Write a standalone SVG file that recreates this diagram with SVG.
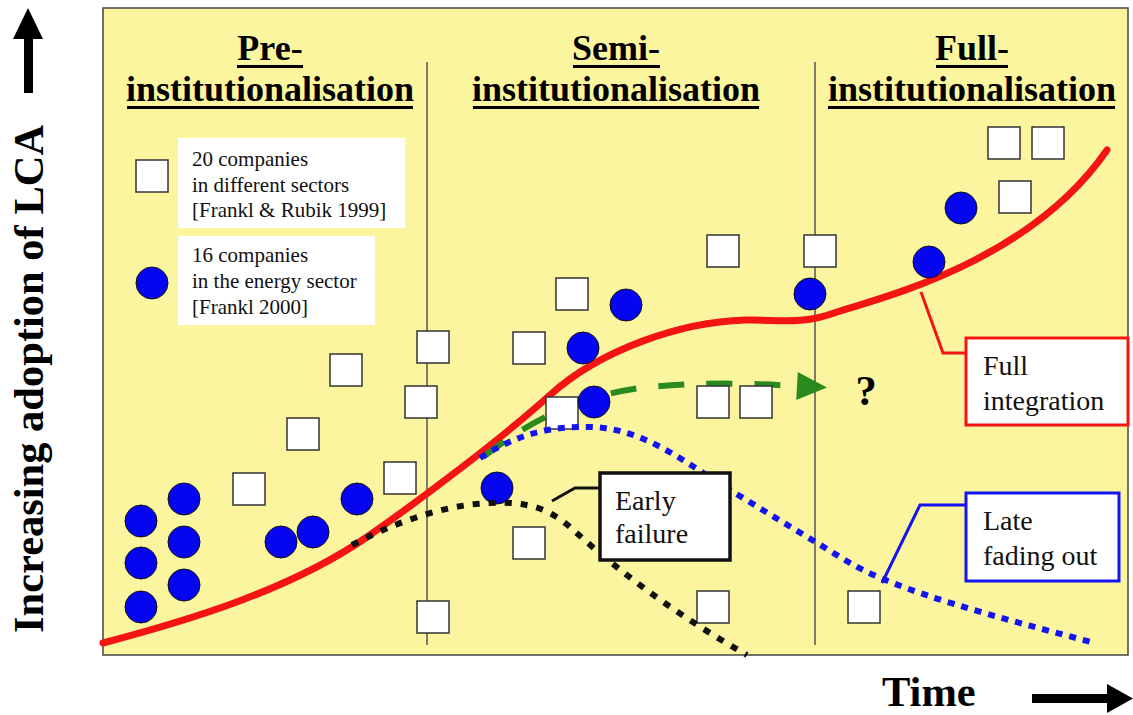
<svg xmlns="http://www.w3.org/2000/svg" width="1133" height="715" viewBox="0 0 1133 715">
<defs>
<style>
.hd{font-family:"Liberation Serif","Times New Roman",serif;font-weight:bold;font-size:36px;fill:#000;text-anchor:middle}
.lg{font-family:"Liberation Serif","Times New Roman",serif;font-size:21px;fill:#111}
.lb{font-family:"Liberation Serif","Times New Roman",serif;font-size:28px;fill:#111}
.ax{font-family:"Liberation Serif","Times New Roman",serif;font-weight:bold;font-size:42.5px;fill:#000}
.ul{stroke:#000;stroke-width:3}
.sq{fill:#fff;stroke:#333;stroke-width:1.5}
.ci{fill:#0505f0;stroke:#111;stroke-width:1}
.div{stroke:#555;stroke-width:1.5}
</style>
<marker id="gArrow" markerWidth="10" markerHeight="10" refX="0" refY="5" orient="auto" markerUnits="userSpaceOnUse" viewBox="0 0 10 10" overflow="visible">
<polygon points="0,-9 30,5 0,19" fill="#2b8a1e"/>
</marker>
</defs>
<rect width="1133" height="715" fill="#fff"/>
<rect x="103" y="8" width="1025" height="647" fill="#fbf5a0" stroke="#444" stroke-width="1.5"/>
<line class="div" x1="427" y1="62" x2="427" y2="645"/>
<line class="div" x1="815" y1="62" x2="815" y2="645"/>

<g id="head-pre">
<text class="hd" x="270" y="60">Pre-</text>
<line class="ul" x1="237" y1="66.5" x2="303" y2="66.5"/>
<text class="hd" x="270" y="101">institutionalisation</text>
<line class="ul" x1="127" y1="107.5" x2="413" y2="107.5"/>
</g>
<g id="head-semi">
<text class="hd" x="616" y="60">Semi-</text>
<line class="ul" x1="573" y1="66.5" x2="660" y2="66.5"/>
<text class="hd" x="616" y="101">institutionalisation</text>
<line class="ul" x1="473" y1="107.5" x2="759" y2="107.5"/>
</g>
<g id="head-full">
<text class="hd" x="972" y="60">Full-</text>
<line class="ul" x1="936" y1="66.5" x2="1008" y2="66.5"/>
<text class="hd" x="972" y="101">institutionalisation</text>
<line class="ul" x1="828" y1="107.5" x2="1115" y2="107.5"/>
</g>

<g id="legend-squares">
<rect x="178" y="138" width="227" height="90" fill="#fff"/>
<rect class="sq" x="136" y="160" width="32" height="32"/>
<text class="lg" x="192" y="166">20 companies</text>
<text class="lg" x="192" y="192">in different sectors</text>
<text class="lg" x="192" y="217">[Frankl &amp; Rubik 1999]</text>
</g>
<g id="legend-circles">
<rect x="178" y="236" width="197" height="89" fill="#fff"/>
<circle class="ci" cx="152" cy="283" r="16"/>
<text class="lg" x="192" y="262">16 companies</text>
<text class="lg" x="192" y="288">in the energy sector</text>
<text class="lg" x="192" y="314">[Frankl 2000]</text>
</g>

<g id="connectors" fill="none">
<path id="full-integration-curve" d="M103,643 C190,620 290,590 367,537 C420,500 500,440 550,395 C600,350 680,322 745,320 C775,319 800,326 837,312 C880,298 1030,262 1107,150" stroke="#f51414" stroke-width="7" stroke-linecap="round"/>
<path id="question-arrow" d="M483,457 C525,425 570,398 640,388 C700,381 760,384 797,386" stroke="#2b8a1e" stroke-width="6" stroke-dasharray="26 22" marker-end="url(#gArrow)"/>
<polyline id="full-leader" points="921,292 943,353 966,353" stroke="#f51414" stroke-width="3"/>
<polyline id="late-leader" points="882,583 920,505 966,505" stroke="#1414f0" stroke-width="3"/>
<polyline id="early-leader" points="552,501 575,488 599,488" stroke="#111" stroke-width="3"/>
</g>

<g id="companies-squares">
<rect class="sq" x="330" y="354" width="32" height="32"/>
<rect class="sq" x="287" y="418" width="32" height="32"/>
<rect class="sq" x="233" y="473" width="32" height="32"/>
<rect class="sq" x="384" y="462" width="32" height="32"/>
<rect class="sq" x="405" y="386" width="32" height="32"/>
<rect class="sq" x="417" y="331" width="32" height="32"/>
<rect class="sq" x="417" y="601" width="32" height="32"/>
<rect class="sq" x="556" y="278" width="32" height="32"/>
<rect class="sq" x="707" y="235" width="32" height="32"/>
<rect class="sq" x="804" y="235" width="32" height="32"/>
<rect class="sq" x="513" y="332" width="32" height="32"/>
<rect class="sq" x="546" y="397" width="32" height="32"/>
<rect class="sq" x="697" y="386" width="32" height="32"/>
<rect class="sq" x="740" y="386" width="32" height="32"/>
<rect class="sq" x="513" y="527" width="32" height="32"/>
<rect class="sq" x="697" y="591" width="32" height="32"/>
<rect class="sq" x="988" y="127" width="32" height="32"/>
<rect class="sq" x="1032" y="127" width="32" height="32"/>
<rect class="sq" x="999" y="181" width="32" height="32"/>
<rect class="sq" x="848" y="591" width="32" height="32"/>
</g>
<g id="energy-circles">
<circle class="ci" cx="141" cy="521" r="16"/>
<circle class="ci" cx="141" cy="563" r="16"/>
<circle class="ci" cx="141" cy="607" r="16"/>
<circle class="ci" cx="184" cy="499" r="16"/>
<circle class="ci" cx="184" cy="542" r="16"/>
<circle class="ci" cx="184" cy="585" r="16"/>
<circle class="ci" cx="281" cy="542" r="16"/>
<circle class="ci" cx="313" cy="532" r="16"/>
<circle class="ci" cx="357" cy="499" r="16"/>
<circle class="ci" cx="626" cy="305" r="16"/>
<circle class="ci" cx="583" cy="348" r="16"/>
<circle class="ci" cx="594" cy="402" r="16"/>
<circle class="ci" cx="497" cy="488" r="16"/>
<circle class="ci" cx="810" cy="294" r="16"/>
<circle class="ci" cx="929" cy="262" r="16"/>
<circle class="ci" cx="961" cy="208" r="16"/>
</g>

<g id="dotted-curves" fill="none">
<path id="late-fading-curve" d="M480,458 C520,432 555,426 590,427 C640,428 680,458 720,484 L850,563 C900,592 1000,618 1095,643" stroke="#1414f0" stroke-width="6" stroke-dasharray="7 7"/>
<path id="early-failure-curve" d="M352,545 C390,525 440,505 490,503 C530,501 550,510 570,527 C590,545 650,600 747,655" stroke="#111" stroke-width="6" stroke-dasharray="7 9"/>
</g>

<g id="label-early">
<rect x="600" y="473" width="130" height="87" fill="#fff" stroke="#111" stroke-width="3.5"/>
<text class="lb" x="615" y="510">Early</text>
<text class="lb" x="615" y="543">failure</text>
</g>
<g id="label-full">
<rect x="966" y="338" width="162" height="87" fill="#fff" stroke="#f51414" stroke-width="3"/>
<text class="lb" x="983" y="375">Full</text>
<text class="lb" x="983" y="410">integration</text>
</g>
<g id="label-late">
<rect x="966" y="493" width="153" height="88" fill="#fff" stroke="#1414f0" stroke-width="3"/>
<text class="lb" x="983" y="530">Late</text>
<text class="lb" x="983" y="565">fading out</text>
</g>
<text id="question" class="ax" x="866" y="405" text-anchor="middle" font-size="40">?</text>

<g id="y-axis">
<text class="ax" transform="translate(43,633) rotate(-90)">Increasing adoption of LCA</text>
<polygon points="28,8 43,39 13,39" fill="#000"/>
<rect x="24" y="38" width="9" height="55" fill="#000"/>
</g>
<g id="x-axis">
<text class="ax" x="882" y="706" font-size="41px">Time</text>
<rect x="1032" y="694" width="78" height="9" fill="#000"/>
<polygon points="1107,684 1133,698.5 1107,713" fill="#000"/>
</g>
</svg>
